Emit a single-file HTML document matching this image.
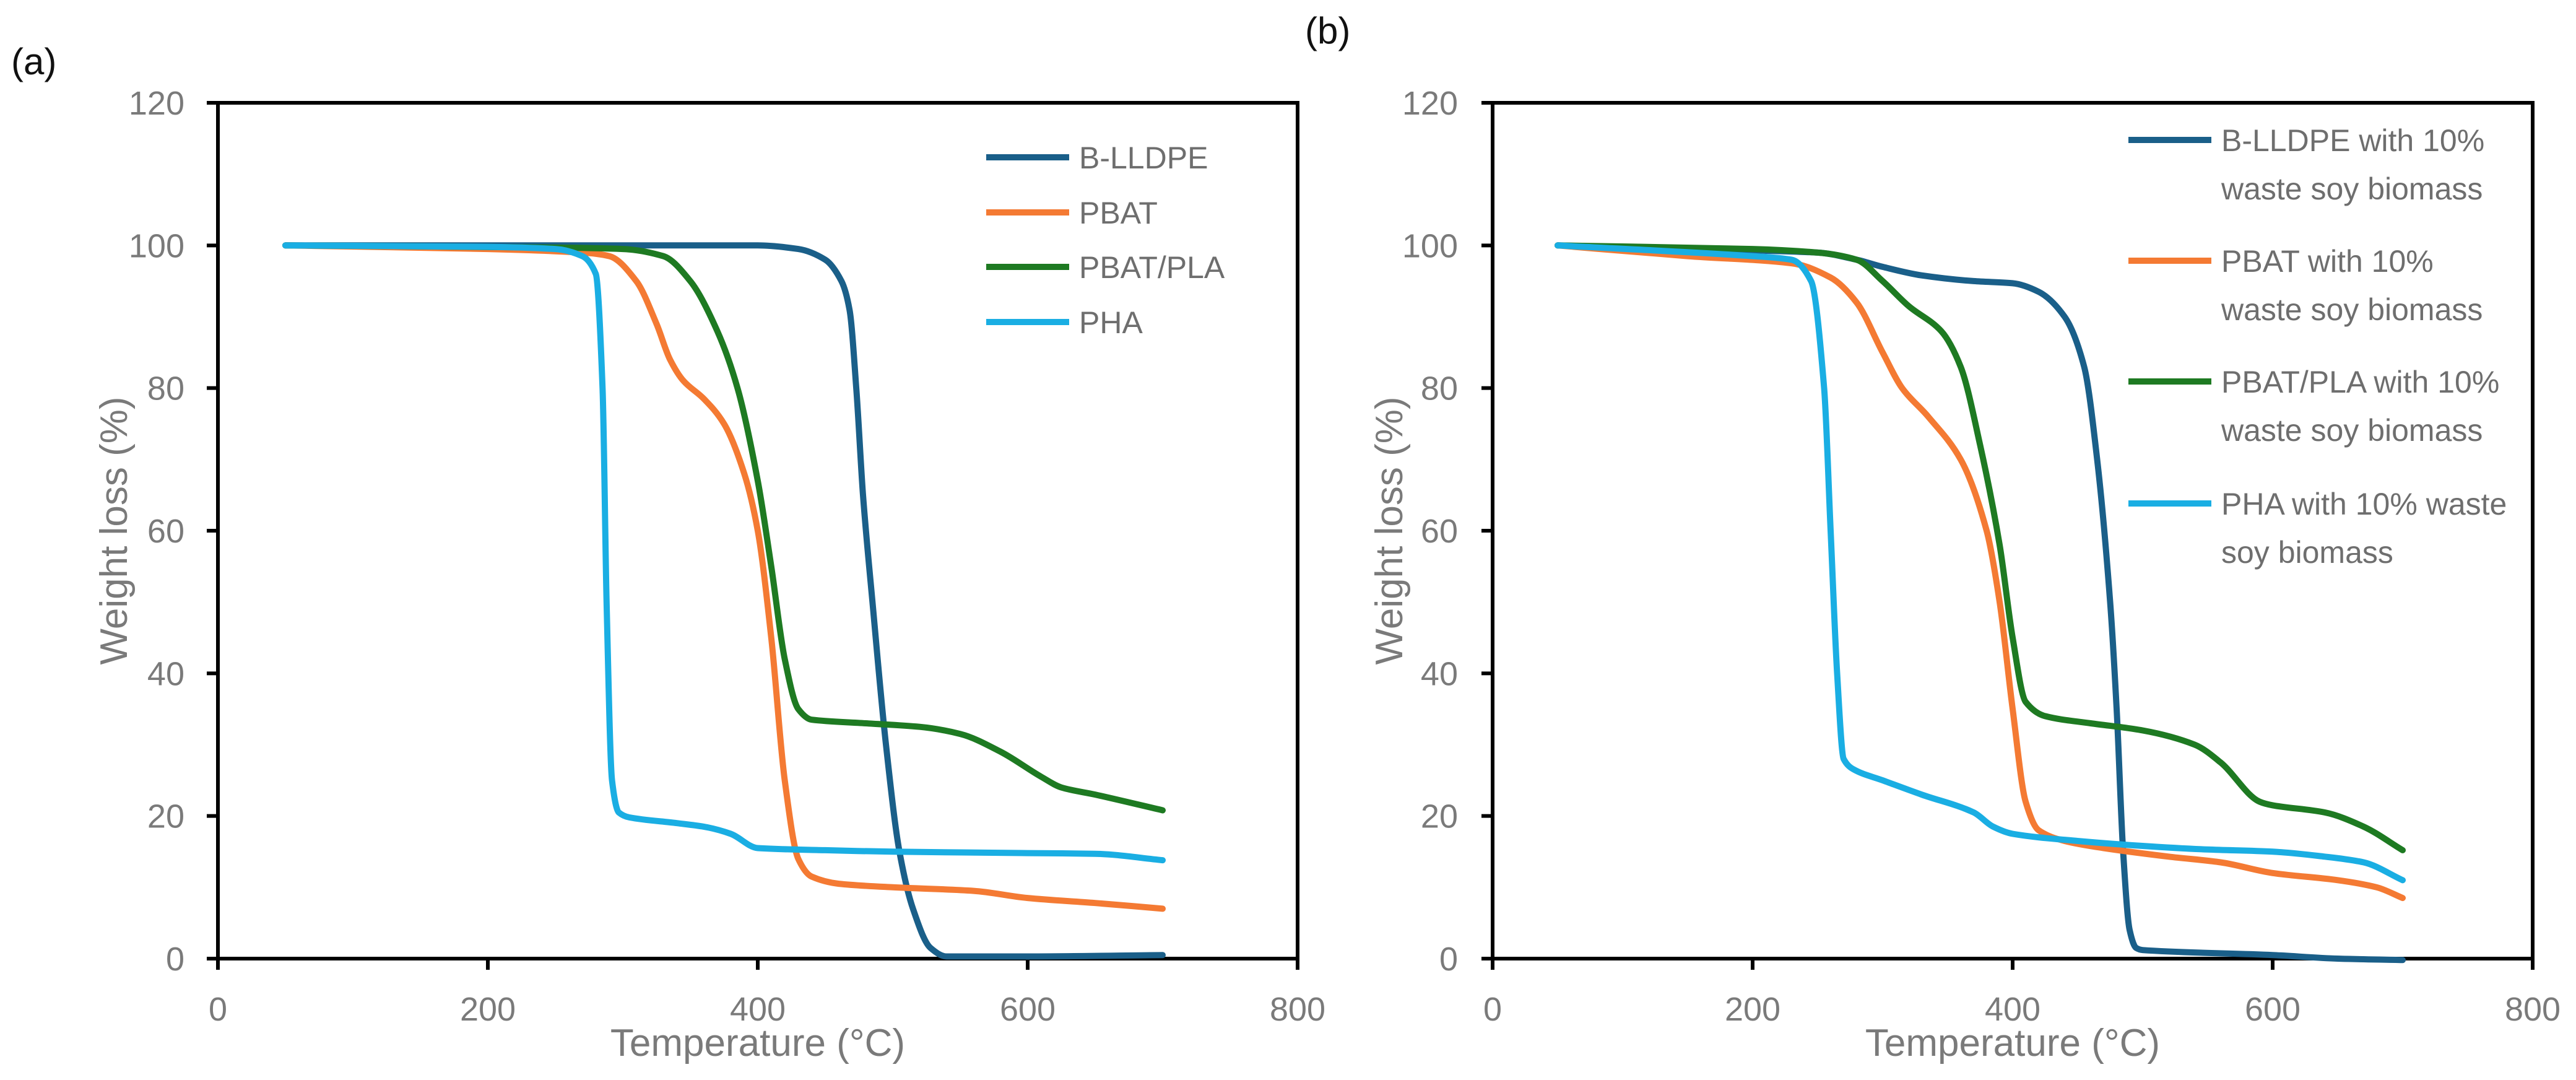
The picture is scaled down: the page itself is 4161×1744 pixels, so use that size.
<!DOCTYPE html>
<html><head><meta charset="utf-8">
<style>
html,body{margin:0;padding:0;background:#fff;}
svg{display:block;font-family:"Liberation Sans",sans-serif;}
.tick{fill:#7a7a7a;font-size:54px;}
.title{fill:#7a7a7a;font-size:62px;}
.leg{fill:#6e6e6e;font-size:50px;}
</style></head>
<body>
<svg id="chart" width="4161" height="1744" viewBox="0 0 4161 1744" xmlns="http://www.w3.org/2000/svg"></svg>
<script>
const xTicks = [0,200,400,600,800];
const yTicks = [0,20,40,60,80,100,120];
const seriesNamesA = ["B-LLDPE","PBAT","PBAT/PLA","PHA"];
const seriesNamesB = [["B-LLDPE with 10%","waste soy biomass"],["PBAT with 10%","waste soy biomass"],["PBAT/PLA with 10%","waste soy biomass"],["PHA with 10% waste","soy biomass"]];
const colors = ["#1a5f89","#f47a33","#1e7a22","#1aaee3"];

const aLLDPE_x = [50,300,400,430,450,462,468,473,478,485,495,505,515,528,540,600,700];
const aLLDPE_y = [100,100,100,99.5,98,95,91,80,65,50,30,15,7,1.5,0.3,0.3,0.5];
const aPBAT_x = [50,200,270,290,310,325,335,345,360,375,390,400,410,420,430,440,460,500,560,600,650,700];
const aPBAT_y = [100,99.5,99,98.5,95,89,84,81,78.5,75,68,60,45,25,14,11.5,10.5,10,9.5,8.5,7.8,7];
const aPLA_x = [50,250,300,330,350,370,385,400,410,420,430,440,480,520,550,580,610,625,650,700];
const aPLA_y = [100,99.7,99.5,98.5,95,88,80,67,55,42,35,33.5,33,32.5,31.5,29,25.5,24,23,20.8];
const aPHA_x = [50,200,250,270,280,285,288,292,297,305,340,360,380,400,450,500,600,650,700];
const aPHA_y = [100,99.8,99.5,98.5,96,80,50,25,20.5,19.8,19,18.5,17.5,15.5,15.2,15,14.8,14.7,13.8];

const bLLDPE_x = [50,200,250,280,300,330,370,400,420,440,455,465,475,480,485,490,495,500,600,650,700];
const bLLDPE_y = [100,99.3,99,98,97,95.8,95,94.7,93.5,90,83,70,50,35,15,4,1.5,1.2,0.5,0,-0.2];
const bPBAT_x = [50,150,230,260,280,300,315,335,360,380,390,400,410,420,440,470,520,560,600,650,680,700];
const bPBAT_y = [100,98.5,97.5,95.5,92,85,80,76,70,60,50,35,22,18,16.5,15.5,14.3,13.5,12,11,10,8.5];
const bPLA_x = [50,200,250,280,300,320,345,360,375,390,400,410,425,460,500,540,560,590,600,640,670,700];
const bPLA_y = [100,99.5,99,98,95,91.5,88,83,72,58,45,36,34,33,32,30,27.5,22,21.5,20.5,18.5,15.2];
const bPHA_x = [50,200,230,245,255,260,265,270,278,300,330,370,385,400,450,500,550,600,640,670,700];
const bPHA_y = [100,98.5,98,95,80,60,40,28,26.5,25,23,20.5,18.5,17.5,16.5,15.8,15.3,15,14.3,13.5,11];

const NS="http://www.w3.org/2000/svg";
const svg=document.getElementById("chart");
function mk(tag,attrs,parent){const e=document.createElementNS(NS,tag);for(const k in attrs)e.setAttribute(k,attrs[k]);(parent||svg).appendChild(e);return e;}

function monoPath(px,py){
  const n=px.length, d=[], m=[];
  for(let i=0;i<n-1;i++) d.push((py[i+1]-py[i])/(px[i+1]-px[i]));
  m[0]=d[0]; m[n-1]=d[n-2];
  for(let i=1;i<n-1;i++){ m[i]=(d[i-1]*d[i]<=0)?0:2/(1/d[i-1]+1/d[i]); }
  let s="M"+px[0].toFixed(1)+","+py[0].toFixed(1);
  for(let i=0;i<n-1;i++){
    const h=px[i+1]-px[i];
    s+="C"+(px[i]+h/3).toFixed(1)+","+(py[i]+m[i]*h/3).toFixed(1)+" "+(px[i+1]-h/3).toFixed(1)+","+(py[i+1]-m[i+1]*h/3).toFixed(1)+" "+px[i+1].toFixed(1)+","+py[i+1].toFixed(1);
  }
  return s;
}

function panel(id,L,R,T,B,xs,ys,legend,legX,legRows,label,labelX,labelY,ytitleX,ylabR){
  const g=mk("g",{});
  
  
  const sx=v=>L+(v-0)/800*(R-L);
  const sy=v=>B-(v/120)*(B-T);
  const t=mk("text",{x:labelX,y:labelY,"font-size":60,fill:"#111"},g);t.textContent=label;
  
  
  const frame=mk("rect",{x:L,y:T,width:R-L,height:B-T,fill:"none",stroke:"#000","stroke-width":6},g);
  
  
  xTicks.forEach(v=>{
    const x=sx(v);
    const l=mk("line",{x1:x,x2:x,y1:B,y2:B+18,stroke:"#000","stroke-width":6},g);
    
    
    const tt=mk("text",{x:x,y:B+100,"text-anchor":"middle",class:"tick"},g);tt.textContent=v;
    
    
  });
  yTicks.forEach(v=>{
    const y=sy(v);
    const l=mk("line",{x1:L-18,x2:L,y1:y,y2:y,stroke:"#000","stroke-width":6},g);
    
    
    const tt=mk("text",{x:ylabR,y:y+19,"text-anchor":"end",class:"tick"},g);tt.textContent=v;
    
    
  });
  const xt=mk("text",{x:(L+R)/2,y:1705,"text-anchor":"middle",class:"title"},g);xt.textContent="Temperature (°C)";
  
  
  const yt=mk("text",{x:0,y:0,"text-anchor":"middle",class:"title",transform:`translate(${ytitleX},857) rotate(-90)`},g);yt.textContent="Weight loss (%)";
  
  
  for(let s=0;s<4;s++){
    const d=monoPath(xs[s].map(sx),ys[s].map(sy));
    const p=mk("path",{d:d,fill:"none",stroke:colors[s],"stroke-width":10,"stroke-linejoin":"round","stroke-linecap":"round"},g);
    
    
  }
  legend.forEach((name,s)=>{
    const ly=legRows[s];
    const ln=mk("line",{x1:legX,x2:legX+134,y1:ly,y2:ly,stroke:colors[s],"stroke-width":10},g);
    
    
    const lines=Array.isArray(name)?name:[name];
    lines.forEach((txt,k)=>{
      const te=mk("text",{x:legX+150,y:ly+18+k*78,class:"leg"},g);te.textContent=txt;
      
      
    });
  });
}
panel("a",352,2096,166,1548,
  [aLLDPE_x,aPBAT_x,aPLA_x,aPHA_x],[aLLDPE_y,aPBAT_y,aPLA_y,aPHA_y],
  seriesNamesA,1593,[254,343,431,520],"(a)",18,120,205,298);
panel("b",2411,4091,166,1548,
  [bLLDPE_x,bPBAT_x,bPLA_x,bPHA_x],[bLLDPE_y,bPBAT_y,bPLA_y,bPHA_y],
  seriesNamesB,3438,[226,421,616,813],"(b)",2108,70,2265,2355);
</script>
</body></html>
